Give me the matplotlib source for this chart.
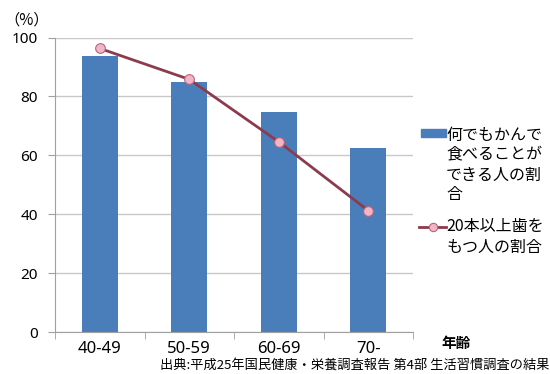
import matplotlib
matplotlib.use("Agg")
import matplotlib.pyplot as plt
from matplotlib.patches import Rectangle
from matplotlib.lines import Line2D
import numpy as np

plt.rcParams['font.family'] = ['Noto Sans CJK JP', 'DejaVu Sans']

categories = ["40-49", "50-59", "60-69", "70-"]
chew_anything = [93.7, 85.0, 74.8, 62.6]
teeth_20plus = [96.3, 85.8, 64.6, 41.3]
yticks = [0, 20, 40, 60, 80, 100]

bar_label_lines = ["何でもかんで", "食べることが", "できる人の割", "合"]
line_label_lines = ["20本以上歯を", "もつ人の割合"]

BAR_COLOR = "#4A7EBB"
LINE_COLOR = "#8C3B4E"
MARKER_FACE = "#F2B5C8"
MARKER_EDGE = "#B5677A"

W, H = 550, 374
fig = plt.figure(figsize=(W / 100, H / 100), dpi=100)
ax = fig.add_axes([55 / W, 1 - 332.3 / H, 358 / W, 294.8 / H])

x = np.arange(len(categories))
ax.bar(x, chew_anything, width=0.40, color=BAR_COLOR, zorder=2)
ax.plot(x, teeth_20plus, color=LINE_COLOR, lw=2, marker="o",
        markersize=7, markerfacecolor=MARKER_FACE,
        markeredgecolor=MARKER_EDGE, markeredgewidth=0.8, zorder=3)

ax.set_xlim(-0.5, len(categories) - 0.5)
ax.set_ylim(0, 100)
ax.set_yticks(yticks)
ax.set_yticklabels([str(v) for v in yticks], fontsize=11, family="Noto Sans")
ax.set_xticks(x)
ax.set_xticklabels(categories, fontsize=12, family="Noto Sans")
ax.set_xticks(np.arange(len(categories) + 1) - 0.5, minor=True)
ax.tick_params(axis="x", which="major", length=0, pad=6)
ax.tick_params(axis="x", which="minor", length=5, color="#A0A0A0", direction="out")
ax.tick_params(axis="y", length=5, color="#A0A0A0", direction="out", pad=7.5)

ax.grid(axis="y", color="#C8C8C8", lw=1, zorder=0)
for s in ["top", "right"]:
    ax.spines[s].set_visible(False)
for s in ["left", "bottom"]:
    ax.spines[s].set_color("#A0A0A0")

fig.text(4 / W, 1 - 20 / H, "（%）", fontsize=11, ha="left", va="center")
fig.text(441 / W, 1 - 343 / H, "年齢", fontsize=10.5, weight="bold",
         ha="left", va="center")
fig.text(549 / W, 1 - 365 / H,
         "出典:平成25年国民健康・栄養調査報告 第4部 生活習慣調査の結果",
         fontsize=9.5, ha="right", va="center")

# legend drawn in figure pixels
fig.add_artist(Rectangle((420.7 / W, 1 - 136.7 / H), 25 / W, 7.7 / H,
                         transform=fig.transFigure, color=BAR_COLOR))
fig.add_artist(Line2D([419 / W, 446 / W], [1 - 227 / H, 1 - 227 / H],
                      transform=fig.transFigure, color=LINE_COLOR, lw=2))
fig.add_artist(Line2D([432.5 / W], [1 - 227 / H], transform=fig.transFigure,
                      marker="o", markersize=6, markerfacecolor=MARKER_FACE,
                      markeredgecolor=MARKER_EDGE, markeredgewidth=0.8))
for i, t in enumerate(bar_label_lines):
    fig.text(446 / W, 1 - (135 + 20 * i) / H, t, fontsize=11.5,
             ha="left", va="center")
for i, t in enumerate(line_label_lines):
    fig.text(446 / W, 1 - (227 + 20 * i) / H, t, fontsize=11.5,
             ha="left", va="center")

fig.savefig("out.png", dpi=100)
